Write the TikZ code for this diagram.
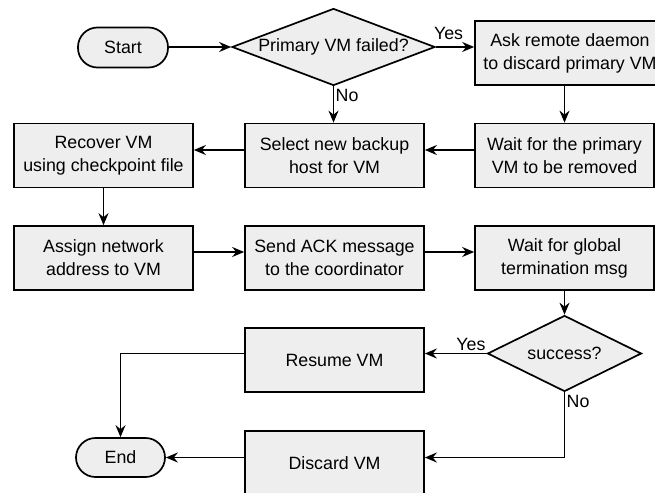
\documentclass[tikz,border=0pt]{standalone}
\usepackage{fontspec}
\setmainfont{Liberation Sans}
\usetikzlibrary{arrows.meta,shapes.geometric}
\definecolor{boxfill}{RGB}{238,238,238}
\begin{document}
\begin{tikzpicture}[x=1pt,y=-1pt,
  every node/.style={font=\fontsize{17.8pt}{23pt}\selectfont},
  procbox/.style={draw, fill=boxfill, line width=1.7pt, minimum width=179pt, minimum height=64pt, inner sep=0pt, align=center},
  termbox/.style={draw, fill=boxfill, line width=1.7pt, rounded corners=19.5pt, minimum width=90pt, minimum height=40pt, inner sep=0pt},
  decbox/.style={draw, fill=boxfill, line width=1.7pt, shape=diamond, inner sep=0pt},
  flow/.style={line width=1.7pt, -{Stealth[length=12pt,width=10pt,inset=4pt]}},
  lbl/.style={inner sep=0pt}
]
\useasboundingbox (0,0) rectangle (655,492);

% nodes
\node[termbox] (start) at (123,47.5) {Start};
\node[decbox, minimum width=203pt, minimum height=77pt, aspect=2.64] (d1) at (333.5,47) {Primary VM failed?};
\node[procbox, minimum width=190pt] (ask) at (570,53) {Ask remote daemon\\to discard primary VM};
\node[procbox] (wait1) at (564.5,155.5) {Wait for the primary\\VM to be removed};
\node[procbox] (sel) at (334.5,155.5) {Select new backup\\host for VM};
\node[procbox] (rec) at (103.5,155.5) {Recover VM\\using checkpoint file};
\node[procbox] (assign) at (103.5,258) {Assign network\\address to VM};
\node[procbox] (ack) at (334.5,258) {Send ACK message\\to the coordinator};
\node[procbox] (wglob) at (564.5,258) {Wait for global\\termination msg};
\node[decbox, minimum width=154pt, minimum height=76pt, aspect=2] (d2) at (564.5,353.5) {success?};
\node[procbox] (resume) at (334.5,360) {Resume VM};
\node[procbox] (discard) at (334.5,463) {Discard VM};
\node[termbox, minimum width=89pt, minimum height=39pt] (endn) at (120.5,457.5) {End};

% connectors
\draw[flow] (start.east |- d1.west) -- (d1.west);
\draw[flow] (d1.east) -- (d1.east -| ask.west);
\node[lbl, anchor=south west] (yes1) at ([xshift=-2pt,yshift=7pt]d1.east) {Yes};
\draw[flow] (d1.south) -- (d1.south |- sel.north);
\node[lbl, anchor=north west] (no1) at ([xshift=2pt,yshift=-3pt]d1.south) {No};
\draw[flow] (wait1.north |- ask.south) -- (wait1.north);
\draw[flow] ([yshift=5.5pt]wait1.west) -- ([yshift=5.5pt]sel.east);
\draw[flow] ([yshift=5.5pt]sel.west) -- ([yshift=5.5pt]rec.east);
\draw[flow] (rec.south) -- (assign.north);
\draw[flow] ([yshift=6pt]assign.east) -- ([yshift=6pt]ack.west);
\draw[flow] ([yshift=6pt]ack.east) -- ([yshift=6pt]wglob.west);
\draw[flow] (wglob.south) -- (d2.north);
\draw[flow] (d2.west) -- (d2.west -| resume.east);
\node[lbl, anchor=south east] (yes2) at ([xshift=-1pt,yshift=3pt]d2.west) {Yes};
\draw[flow] (d2.west -| resume.west) -| (endn.north);
\draw[flow] (d2.south) |- (endn.east -| discard.east);
\node[lbl, anchor=north west] (no2) at ([xshift=2pt,yshift=-3pt]d2.south) {No};
\draw[flow] (endn.east -| discard.west) -- (endn.east);
\end{tikzpicture}
\end{document}
